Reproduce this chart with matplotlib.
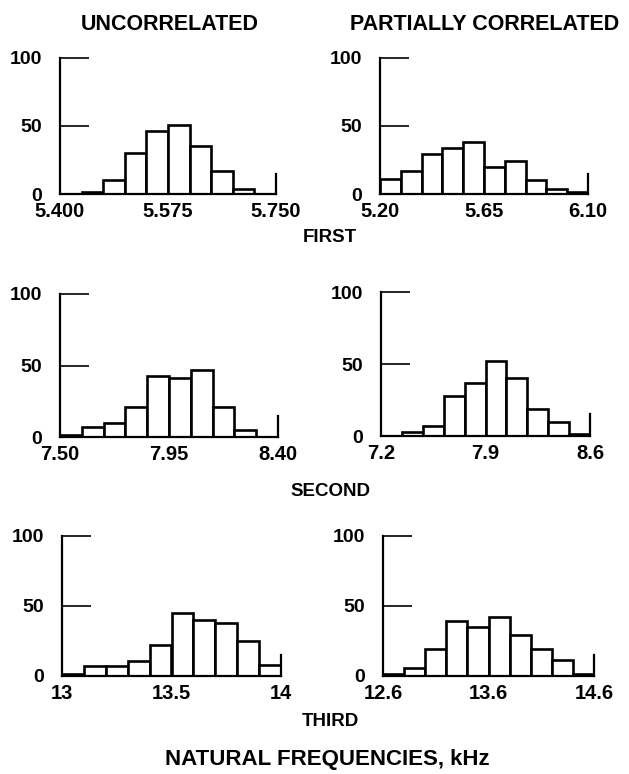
import numpy as np
import matplotlib
matplotlib.use("Agg")
import matplotlib.pyplot as plt

plt.rcParams['font.family'] = ['Liberation Sans', 'DejaVu Sans']
plt.rcParams['font.weight'] = 'bold'

# ---- data (counts per bin) ----
col_titles = ["UNCORRELATED", "PARTIALLY CORRELATED"]
row_titles = ["FIRST", "SECOND", "THIRD"]
xlabel = "NATURAL FREQUENCIES, kHz"

first_unc_range = (5.400, 5.750)
first_unc_counts = [0, 1.5, 10.5, 30, 46, 50.5, 35.5, 16.7, 4, 0]
first_unc_ticks = ["5.400", "5.575", "5.750"]

first_par_range = (5.20, 6.10)
first_par_counts = [11.3, 16.7, 29.7, 33.8, 38.2, 19.9, 24, 10.5, 3.7, 1.2]
first_par_ticks = ["5.20", "5.65", "6.10"]

second_unc_range = (7.50, 8.40)
second_unc_counts = [1.2, 7, 10, 21, 42.5, 41.6, 46.7, 21, 5.1, 0]
second_unc_ticks = ["7.50", "7.95", "8.40"]

second_par_range = (7.2, 8.6)
second_par_counts = [0, 2.6, 7, 28, 37, 52, 40, 18.6, 10, 1.4]
second_par_ticks = ["7.2", "7.9", "8.6"]

third_unc_range = (13.0, 14.0)
third_unc_counts = [1.2, 7.2, 7.2, 10.5, 22.4, 45, 40.3, 38, 25, 7.6]
third_unc_ticks = ["13", "13.5", "14"]

third_par_range = (12.6, 14.6)
third_par_counts = [1.2, 5.7, 19.5, 39, 35, 42, 29, 19.5, 11.2, 1.2]
third_par_ticks = ["12.6", "13.6", "14.6"]

yticks = [0, 50, 100]

panels = [
    (first_unc_range, first_unc_counts, first_unc_ticks),
    (first_par_range, first_par_counts, first_par_ticks),
    (second_unc_range, second_unc_counts, second_unc_ticks),
    (second_par_range, second_par_counts, second_par_ticks),
    (third_unc_range, third_unc_counts, third_unc_ticks),
    (third_par_range, third_par_counts, third_par_ticks),
]

# ---- layout (pixel boxes: x_left, x_right, y_base, y_top) ----
W, H = 629, 774
boxes = [
    (60, 276, 194, 58),
    (380, 588, 194, 58),
    (60, 278, 437, 294),
    (381, 590, 436, 292),
    (62, 281, 676, 536),
    (383, 594, 676, 536),
]

fig = plt.figure(figsize=(W / 100, H / 100), dpi=100)
fig.patch.set_facecolor('white')

for (rng, counts, tlabels), (x0, x1, yb, yt) in zip(panels, boxes):
    ax = fig.add_axes([x0 / W, 1 - yb / H, (x1 - x0) / W, (yb - yt) / H])
    lo, hi = rng
    edges = np.linspace(lo, hi, len(counts) + 1)
    ax.bar(edges[:-1], counts, width=np.diff(edges), align='edge',
           facecolor='white', edgecolor='black', linewidth=1.9, zorder=2)
    ax.set_xlim(lo, hi)
    ax.set_ylim(0, 100)
    for s in ['top', 'right']:
        ax.spines[s].set_visible(False)
    for s in ['left', 'bottom']:
        ax.spines[s].set_linewidth(1.6)
        ax.spines[s].set_zorder(3)
    ax.axvline(hi, ymin=0, ymax=0.15, color='black', lw=1.6, clip_on=False)
    ax.set_yticks(yticks)
    ax.set_yticklabels([str(v) for v in yticks])
    ax.tick_params(axis='y', direction='in', length=21, width=1.2, pad=13,
                   labelsize=14)
    ax.set_xticks([lo, (lo + hi) / 2, hi])
    ax.set_xticklabels(tlabels)
    ax.tick_params(axis='x', length=0, pad=6, labelsize=14.5)
    for lab in ax.get_xticklabels() + ax.get_yticklabels():
        lab.set_fontweight('bold')
    ax.patch.set_alpha(0)

fig.text(170 / W, 1 - 25 / H, col_titles[0], ha='center', va='center',
         fontsize=15.5, fontweight='bold')
fig.text(485 / W, 1 - 24 / H, col_titles[1], ha='center', va='center',
         fontsize=15.5, fontweight='bold')
row_y = [237, 492, 722]
for t, y in zip(row_titles, row_y):
    fig.text(330 / W, 1 - y / H, t, ha='center', va='center',
             fontsize=13.5, fontweight='bold')
fig.text(327 / W, 1 - 760 / H, xlabel, ha='center', va='center',
         fontsize=16, fontweight='bold')

fig.savefig("out.png", dpi=100, facecolor='white')
